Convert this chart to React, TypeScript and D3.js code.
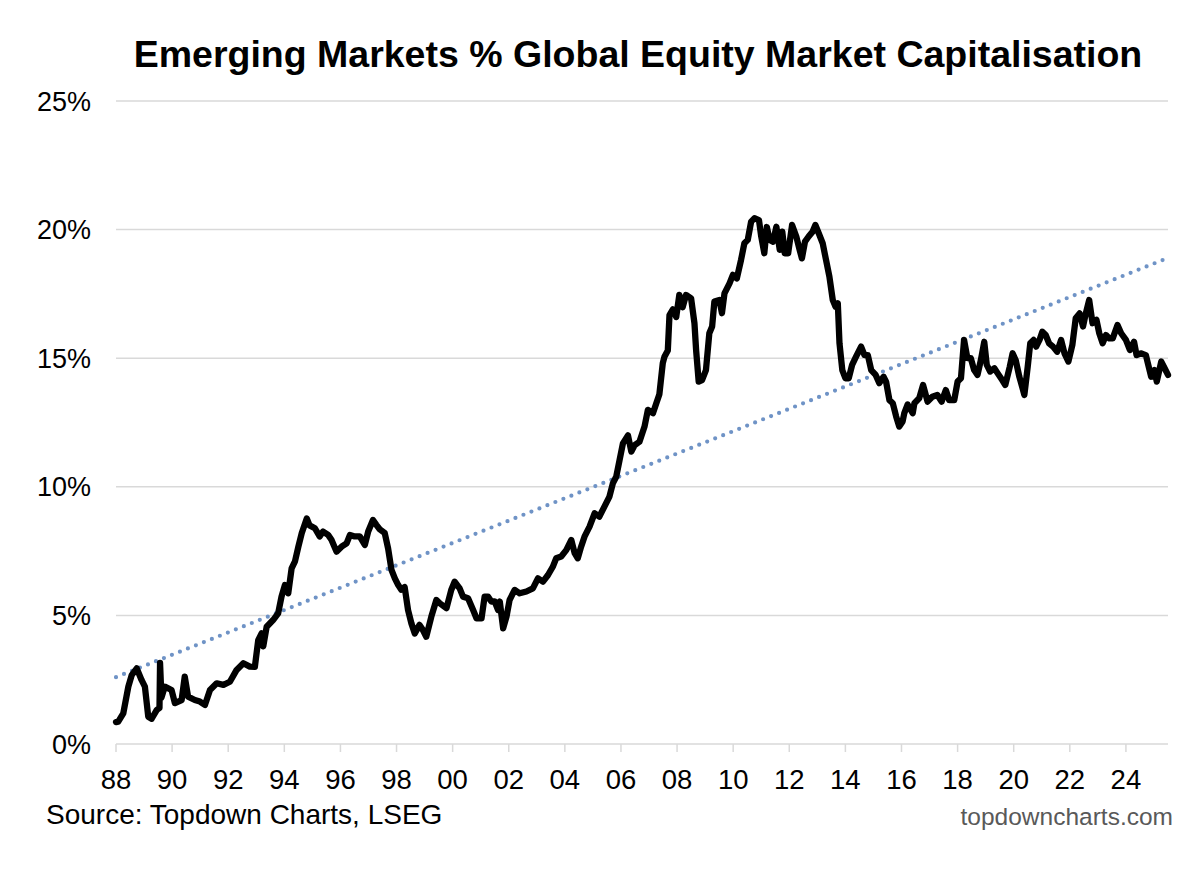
import * as d3 from "d3";

// decimal year of each reading, and EM share of global market cap (%)
const years = [
  1988.0, 1988.08, 1988.26, 1988.44, 1988.56, 1988.74, 1988.91,
  1989.03, 1989.15, 1989.27, 1989.45, 1989.55, 1989.57, 1989.62, 1989.74, 1989.98,
  1990.1, 1990.34, 1990.45, 1990.57, 1990.81, 1990.99,
  1991.17, 1991.35, 1991.59, 1991.83,
  1992.06, 1992.3, 1992.54, 1992.77, 1992.95,
  1993.07, 1993.19, 1993.25, 1993.37, 1993.6, 1993.78, 1993.9,
  1994.02, 1994.14, 1994.26, 1994.38, 1994.5, 1994.62, 1994.8, 1994.9,
  1995.09, 1995.26, 1995.38, 1995.56, 1995.68, 1995.86,
  1996.04, 1996.22, 1996.34, 1996.51, 1996.69, 1996.87, 1996.99,
  1997.16, 1997.28, 1997.4, 1997.58, 1997.7, 1997.82, 1997.94,
  1998.06, 1998.17, 1998.29, 1998.41, 1998.53, 1998.65, 1998.82, 1998.94,
  1999.06, 1999.24, 1999.42, 1999.54, 1999.78, 1999.95,
  2000.07, 2000.25, 2000.37, 2000.55, 2000.73, 2000.85,
  2001.03, 2001.14, 2001.26, 2001.38, 2001.5, 2001.62, 2001.68, 2001.8, 2001.92,
  2002.03, 2002.21, 2002.39, 2002.63, 2002.86,
  2003.04, 2003.22, 2003.4, 2003.57, 2003.69, 2003.87,
  2004.05, 2004.23, 2004.35, 2004.46, 2004.58, 2004.7, 2004.88,
  2005.06, 2005.23, 2005.41, 2005.59, 2005.71, 2005.83, 2005.95,
  2006.07, 2006.25, 2006.37, 2006.49, 2006.66, 2006.84, 2006.96,
  2007.14, 2007.26, 2007.37, 2007.49, 2007.55, 2007.67, 2007.73, 2007.85, 2007.97,
  2008.08, 2008.2, 2008.32, 2008.5, 2008.62, 2008.68, 2008.77, 2008.89,
  2009.03, 2009.15, 2009.25, 2009.33, 2009.51, 2009.6, 2009.69, 2009.87, 2009.99,
  2010.13, 2010.28, 2010.4, 2010.52, 2010.64, 2010.76, 2010.92,
  2011.0, 2011.11, 2011.2, 2011.3, 2011.42, 2011.54, 2011.66, 2011.75, 2011.84, 2011.96,
  2012.1, 2012.25, 2012.37, 2012.45, 2012.56, 2012.69, 2012.83, 2012.93,
  2013.05, 2013.19, 2013.31, 2013.43, 2013.55, 2013.65, 2013.73, 2013.79, 2013.89,
  2014.0, 2014.12, 2014.24, 2014.38, 2014.56, 2014.68, 2014.8, 2014.92,
  2015.08, 2015.21, 2015.36, 2015.45, 2015.57, 2015.69, 2015.81, 2015.92,
  2016.04, 2016.1, 2016.22, 2016.4, 2016.46, 2016.63, 2016.77, 2016.93,
  2017.1, 2017.28, 2017.43, 2017.58, 2017.7, 2017.88,
  2018.0, 2018.12, 2018.23, 2018.35, 2018.47, 2018.59, 2018.71, 2018.83, 2018.95,
  2019.04, 2019.16, 2019.31, 2019.43, 2019.59, 2019.7, 2019.86, 2019.96,
  2020.07, 2020.2, 2020.3, 2020.38, 2020.5, 2020.59, 2020.71, 2020.8, 2020.92,
  2021.02, 2021.14, 2021.26, 2021.4, 2021.55, 2021.69, 2021.81, 2021.95,
  2022.09, 2022.21, 2022.35, 2022.47, 2022.57, 2022.69, 2022.81, 2022.95,
  2023.05, 2023.17, 2023.29, 2023.41, 2023.53, 2023.7, 2023.83,
  2024.0, 2024.14, 2024.29, 2024.38, 2024.53, 2024.71, 2024.9,
  2025.02, 2025.1, 2025.26, 2025.38, 2025.5,
];

const emShare = [
  0.85, 0.87, 1.19, 2.23, 2.68, 2.94, 2.49,
  2.23, 1.06, 0.98, 1.32, 1.4, 3.15, 1.8, 2.23, 2.1,
  1.59, 1.71, 2.62, 1.84, 1.71, 1.65,
  1.52, 2.1, 2.36, 2.3,
  2.42, 2.88, 3.14, 3.01, 3.0,
  4.04, 4.3, 3.8, 4.56, 4.82, 5.08, 5.73,
  6.18, 5.86, 6.83, 7.1, 7.67, 8.19, 8.77, 8.5,
  8.39, 8.07, 8.26, 8.13, 7.94, 7.48,
  7.67, 7.8, 8.13, 8.07, 8.07, 7.74, 8.26,
  8.71, 8.52, 8.35, 8.2, 7.6, 6.77, 6.44,
  6.18, 6.0, 6.1, 5.21, 4.69, 4.3, 4.63, 4.43,
  4.17, 4.95, 5.6, 5.47, 5.28, 5.99,
  6.31, 6.05, 5.73, 5.67, 5.21, 4.89,
  4.89, 5.73, 5.73, 5.54, 5.54, 5.21, 5.54, 4.5, 4.95,
  5.6, 5.99, 5.86, 5.93, 6.05,
  6.44, 6.31, 6.57, 6.89, 7.22, 7.29,
  7.54, 7.93, 7.42, 7.22, 7.67, 8.06, 8.45,
  8.97, 8.84, 9.23, 9.62, 10.13, 10.39, 11.04,
  11.69, 12.0, 11.37, 11.62, 11.75, 12.34, 12.99,
  12.86, 13.25, 13.6, 14.8, 15.06, 15.3, 16.68, 16.9, 16.6,
  17.46, 16.98, 17.46, 17.33, 16.36, 15.3, 14.09, 14.15,
  14.54, 15.97, 16.23, 17.2, 17.26, 16.75, 17.52, 17.91, 18.24,
  18.1, 18.82, 19.47, 19.6, 20.31, 20.44, 20.37,
  19.73, 19.08, 20.1, 19.6, 19.53, 20.11, 19.21, 19.92, 19.08, 19.08,
  20.18, 19.73, 19.21, 18.88, 19.53, 19.73, 19.92, 20.18,
  19.86, 19.47, 18.82, 18.17, 17.26, 17.0, 17.13, 15.58, 14.54,
  14.22, 14.22, 14.74, 15.06, 15.45, 15.12, 15.12, 14.54,
  14.35, 14.03, 14.28, 14.09, 13.37, 13.25, 12.73, 12.34,
  12.54, 12.86, 13.2, 12.86, 13.25, 13.44, 13.96, 13.31,
  13.5, 13.57, 13.31, 13.76, 13.37, 13.37,
  14.09, 14.22, 15.71, 15.0, 15.0, 14.54, 14.35, 14.93, 15.64,
  14.74, 14.48, 14.61, 14.41, 14.15, 13.96, 14.67, 15.19,
  14.93, 14.28, 13.89, 13.57, 14.67, 15.58, 15.71, 15.45, 15.71,
  16.03, 15.9, 15.58, 15.45, 15.25, 15.71, 15.19, 14.87,
  15.51, 16.55, 16.74, 16.23, 16.74, 17.26, 16.36, 16.49,
  15.97, 15.58, 15.9, 15.77, 15.77, 16.29, 15.97,
  15.71, 15.32, 15.64, 15.12, 15.19, 15.12, 14.28,
  14.54, 14.09, 14.87, 14.61, 14.35,
];

// linear trend, start and end values
const trendYears = [1988.0, 2025.5];
const trendValues = [2.6, 18.9];

const yTicks = [0, 5, 10, 15, 20, 25];
const xTickYears = d3.range(1988, 2025, 2);

const FONT = "'Liberation Sans', Arial, Helvetica, sans-serif";

export default function App() {
  const width = 1200;
  const height = 869;
  const left = 116;
  const right = 1168;
  const top = 101;
  const bottom = 744;

  const x = d3.scaleLinear().domain([1988, 2025.5]).range([left, right]);
  const y = d3.scaleLinear().domain([0, 25]).range([bottom, top]);

  const points = years.map((yr, i) => [yr, emShare[i]] as [number, number]);
  const line = d3
    .line<[number, number]>()
    .x((d) => x(d[0]))
    .y((d) => y(d[1]))
    .curve(d3.curveLinear);

  const trend = trendYears.map((yr, i) => [yr, trendValues[i]] as [number, number]);

  return (
    <svg
      width={width}
      height={height}
      viewBox={`0 0 ${width} ${height}`}
      style={{ position: "absolute", left: 0, top: 0, background: "#fff" }}
    >
      <rect width={width} height={height} fill="#fff" />
      <text
        x={638}
        y={67}
        textAnchor="middle"
        fontFamily={FONT}
        fontWeight="bold"
        fontSize={37.5}
        fill="#000"
      >
        Emerging Markets % Global Equity Market Capitalisation
      </text>

      {/* gridlines */}
      {yTicks.slice(1).map((t) => (
        <line key={t} x1={left} x2={right} y1={y(t)} y2={y(t)} stroke="#d9d9d9" strokeWidth={1.5} />
      ))}
      {yTicks.map((t) => (
        <text
          key={"l" + t}
          x={91}
          y={y(t) + 9.5}
          textAnchor="end"
          fontFamily={FONT}
          fontSize={27}
          fill="#000"
        >
          {t}%
        </text>
      ))}

      {/* x axis */}
      <line x1={left} x2={right} y1={bottom} y2={bottom} stroke="#d9d9d9" strokeWidth={1.5} />
      {xTickYears.map((yr) => (
        <g key={yr}>
          <line x1={x(yr)} x2={x(yr)} y1={bottom} y2={bottom + 8} stroke="#d9d9d9" strokeWidth={1.5} />
          <text
            x={x(yr)}
            y={789}
            textAnchor="middle"
            fontFamily={FONT}
            fontSize={27.5}
            fill="#000"
          >
            {String(yr % 100).padStart(2, "0")}
          </text>
        </g>
      ))}

      <path
        d={line(trend) ?? ""}
        fill="none"
        stroke="#6f93c6"
        strokeWidth={4.2}
        strokeDasharray="0 8.6"
        strokeLinecap="round"
      />
      <path
        d={line(points) ?? ""}
        fill="none"
        stroke="#000"
        strokeWidth={6.3}
        strokeLinejoin="round"
        strokeLinecap="round"
      />

      <text x={46} y={824} fontFamily={FONT} fontSize={28} fill="#000">
        Source: Topdown Charts, LSEG
      </text>
      <text x={1173} y={825} textAnchor="end" fontFamily={FONT} fontSize={24.5} fill="#595959">
        topdowncharts.com
      </text>
    </svg>
  );
}
